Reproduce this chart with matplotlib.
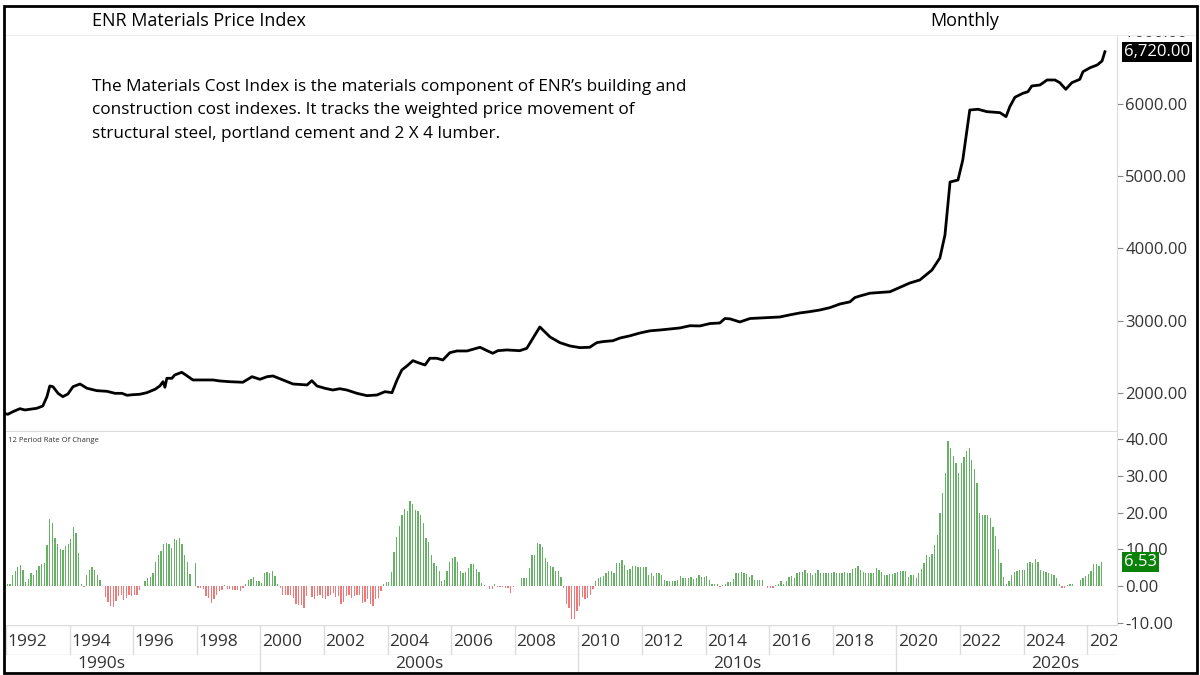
from matplotlib import pyplot as plt
from matplotlib.patches import Rectangle
import numpy as np
import pandas as pd

plt.rcParams["font.family"] = ["Open Sans", "DejaVu Sans"]

# --- data ---
# materials cost index (decimal year, index value)
line_years = [1992.00, 1992.06, 1992.22, 1992.44, 1992.60, 1992.82, 1992.97, 1993.16, 1993.29, 1993.38,
              1993.48, 1993.64, 1993.79, 1993.95, 1994.11, 1994.33, 1994.55, 1994.86, 1995.18, 1995.43,
              1995.65, 1995.81, 1995.99, 1996.21, 1996.43, 1996.69, 1996.84, 1996.94, 1997.00, 1997.06,
              1997.22, 1997.31, 1997.53, 1997.69, 1997.88, 1998.10, 1998.51, 1998.73, 1999.04, 1999.45,
              1999.74, 1999.99, 2000.21, 2000.40, 2000.71, 2001.03, 2001.47, 2001.62, 2001.78, 2002.03,
              2002.28, 2002.50, 2002.72, 2003.04, 2003.35, 2003.67, 2003.92, 2004.14, 2004.30, 2004.45,
              2004.61, 2004.80, 2004.96, 2005.18, 2005.33, 2005.55, 2005.74, 2005.96, 2006.18, 2006.50,
              2006.69, 2006.91, 2007.13, 2007.31, 2007.47, 2007.75, 2008.16, 2008.38, 2008.54, 2008.79,
              2008.95, 2009.11, 2009.42, 2009.74, 2010.05, 2010.36, 2010.58, 2010.77, 2011.09, 2011.31,
              2011.62, 2011.94, 2012.26, 2012.57, 2012.89, 2013.19, 2013.51, 2013.82, 2014.14, 2014.45,
              2014.61, 2014.77, 2015.08, 2015.40, 2015.71, 2016.03, 2016.34, 2016.65, 2016.97, 2017.28,
              2017.60, 2017.91, 2018.23, 2018.54, 2018.70, 2018.86, 2019.17, 2019.48, 2019.80, 2020.11,
              2020.42, 2020.74, 2021.12, 2021.37, 2021.53, 2021.69, 2021.94,
              2022.09, 2022.31, 2022.57, 2022.85, 2023.26, 2023.45, 2023.57, 2023.73, 2023.98, 2024.14,
              2024.26, 2024.52, 2024.74, 2024.99, 2025.14, 2025.33, 2025.52, 2025.77, 2025.87, 2026.10,
              2026.32, 2026.47, 2026.56]
line_values = [1712, 1705, 1741, 1783, 1765, 1779, 1788, 1820, 1949, 2097,
               2087, 1995, 1949, 1986, 2087, 2124, 2065, 2032, 2023, 1995,
               1995, 1968, 1976, 1982, 2004, 2051, 2097, 2156, 2079, 2203,
               2203, 2249, 2286, 2239, 2180, 2180, 2180, 2166, 2156, 2148,
               2225, 2189, 2225, 2235, 2180, 2124, 2111, 2170, 2097, 2065,
               2041, 2059, 2041, 1995, 1963, 1972, 2018, 2004, 2180, 2318,
               2373, 2447, 2419, 2387, 2480, 2480, 2456, 2557, 2581, 2581,
               2604, 2632, 2585, 2549, 2585, 2595, 2585, 2618, 2733, 2913,
               2844, 2775, 2696, 2650, 2627, 2632, 2696, 2710, 2723, 2760,
               2790, 2830, 2860, 2871, 2885, 2899, 2930, 2927, 2960, 2968,
               3030, 3025, 2982, 3030, 3037, 3045, 3051, 3080, 3107, 3125,
               3148, 3180, 3231, 3260, 3320, 3342, 3380, 3390, 3400, 3460,
               3520, 3563, 3700, 3867, 4185, 4918, 4946,
               5222, 5914, 5924, 5891, 5877, 5822, 5960, 6090, 6145, 6167,
               6246, 6260, 6329, 6329, 6292, 6200, 6292, 6338, 6444, 6500,
               6537, 6592, 6720]

# 12 period rate of change (%), monthly from Jan 1992
roc_values = [
    0.6, 0.5, 2.9, 4.1, 5.3, 5.8, 4.3, 1.1, 2.0, 3.5, 3.1, 4.4, 5.6, 6.1, 6.4, 11.2, 18.4, 17.1, 13.2, 11.5,
    10.2, 9.8, 10.9, 11.5, 12.9, 16.0, 14.4, 9.1, 0.7, -0.2, 2.9, 4.4, 5.3, 4.5, 3.1, 1.8, 0.0, -3.0, -4.4, -5.5,
    -5.6, -4.1, -2.7, -2.5, -3.8, -3.2, -2.5, -2.7, -2.3, -2.5, -1.1, 0.0, 1.3, 2.3, 2.4, 3.6, 6.5, 8.6, 9.7, 11.5,
    11.8, 11.5, 10.5, 12.9, 12.5, 13.2, 11.5, 8.6, 6.5,
    3.2, 0.0, 6.4, -0.5, -0.5, -0.7, -2.7, -3.2, -4.7, -3.6, -2.5, -1.4, -1.1, 0.4, -0.9, -0.7, -1.1, -1.1, -1.1, -1.2,
    -0.5, 0.6, 1.6, 2.0, 2.5, 1.4, 1.3, 0.9, 3.6, 3.8, 3.5, 4.1, 2.7, 0.7, -0.5, -2.5, -2.5, -2.5, -2.5, -3.2,
    -5.0, -5.2, -5.2, -5.9, -2.7, 0.0, -3.0, -3.5, -2.7, -2.5, -3.3, -3.5, -2.7, -2.5, -1.8, -2.9, -2.7, -5.0, -4.4, -2.7,
    -2.5, -3.2, -2.7, -2.5, -2.5, -4.7, -4.4, -3.5,
    -5.0, -5.5, -3.6, -3.2, -1.4, 0.7, 1.1, 1.1, 3.8, 9.3, 13.4, 16.5, 19.5, 20.9, 20.5, 23.2, 22.5, 20.7, 20.5, 19.3,
    17.1, 13.2, 12.0, 8.6, 6.4, 5.5, 4.1, 1.3, 1.8, 4.1, 6.5, 7.7, 7.9, 6.5, 4.1, 3.6, 3.8, 5.0, 5.9, 6.1,
    4.7, 3.8, 0.9, 0.2, 0.0, -0.7, -0.7, 0.5, -0.2, -0.2, -0.2, -0.4, -0.5, -2.0, -0.2, 0.0, 0.0, 2.3, 2.3, 2.2,
    5.0, 8.4, 8.6, 11.8, 11.5, 10.7, 7.7, 6.5, 5.6, 5.3, 4.1,
    4.1, 2.5, -0.5, -4.8, -5.9, -9.1, -8.9, -6.8, -5.3, -2.9, -3.5, -3.2, -2.3, -0.9, 1.4, 2.3, 2.4, 2.7, 3.5, 4.2,
    4.2, 3.6, 6.2, 6.2, 7.0, 5.7, 4.4, 4.7, 5.6, 5.6, 5.3, 5.2, 5.2, 5.3, 2.9, 3.5, 2.7, 3.5, 3.5, 2.9,
    1.8, 1.4, 1.4, 1.3, 1.3, 1.6, 2.7, 2.3, 2.2, 2.2, 2.4, 2.0, 2.2, 3.0, 2.5, 2.5, 2.7, 1.6, 0.7, 0.7,
    0.5, -0.2, 0.2, 0.7, 1.1, 1.1, 2.0, 3.6, 3.5, 3.8,
    3.5, 3.3, 2.5, 3.0, 1.8, 1.6, 1.6, 1.6, 0.0, -0.5, -0.5, -0.5, 0.4, 0.6, 1.5, 0.7, 1.4, 2.5, 2.7, 2.3,
    3.6, 3.8, 3.8, 4.5, 3.6, 3.6, 2.9, 3.6, 4.5, 3.6, 3.5, 3.5, 3.5, 3.6, 3.8, 3.5, 3.5, 3.5, 3.8, 3.6,
    3.5, 4.7, 5.0, 5.5, 4.4, 3.8, 3.6, 3.5, 3.5, 3.5, 5.0, 4.4, 3.8, 2.9, 2.9, 3.3, 3.3, 3.5, 3.8, 4.1,
    4.1, 4.1, 2.5, 2.9, 2.9, 2.1, 3.5, 4.7, 6.4, 8.4,
    7.9, 8.8, 11.2, 13.8, 20.0, 25.5, 30.9, 39.5, 37.7, 35.5, 33.5, 30.9, 33.6, 35.3, 36.8, 37.7, 34.5, 32.0, 28.2, 20.0,
    19.3, 19.3, 19.3, 18.6, 16.1, 13.6, 10.0, 6.2, 2.5, 0.7, 1.4, 3.0, 3.9, 4.1, 4.3, 4.5, 4.5, 6.2, 6.5, 6.4,
    7.5, 6.5, 4.5, 4.1, 3.8, 3.5, 3.2, 3.0, 2.3, 0.7, -0.4, -0.4, 0.2, 0.7, 0.5, 0.0, 0.0, 1.6, 2.3, 2.7,
    3.2, 4.1, 5.9, 6.1, 5.5, 6.53,
]

price_ticks = [2000, 3000, 4000, 5000, 6000, 7000]
roc_ticks = [-10, 0, 10, 20, 30, 40]
year_labels = list(range(1992, 2027, 2))
decades = [1990, 2000, 2010, 2020]

TITLE = "ENR Materials Price Index"
NOTE = ("The Materials Cost Index is the materials component of ENR\u2019s building and\n"
        "construction cost indexes. It tracks the weighted price movement of\n"
        "structural steel, portland cement and 2 X 4 lumber.")

# month positions as decimal years
months = pd.date_range("1992-01-01", periods=len(roc_values), freq="MS")
roc_x = months.year + (months.month - 0.5) / 12
roc = np.array(roc_values)

W, H = 1200, 675
fig = plt.figure(figsize=(W / 100, H / 100), dpi=100)


def box(x0, y0, x1, y1):
    # pixel box (top-left origin) -> figure fraction rect
    return [x0 / W, 1 - y1 / H, (x1 - x0) / W, (y1 - y0) / H]


XLIM = (1991.94, 2026.94)
GRID = "#dcdcdc"
TXT = "#333333"

# --- price panel ---
ax = fig.add_axes(box(4, 28, 1117, 431))
ax.plot(line_years, line_values, color="black", lw=2, solid_joinstyle="round")
ax.set_xlim(*XLIM)
ax.set_ylim(1474, 7048)
ax.yaxis.tick_right()
ax.set_yticks(price_ticks)
ax.set_yticklabels([f"{v:.2f}" for v in price_ticks])
ax.tick_params(axis="y", length=4, color="#888888", labelcolor=TXT, labelsize=12, pad=2)
ax.set_xticks([])
for s in ["top", "left"]:
    ax.spines[s].set_visible(False)
ax.spines["right"].set_color(GRID)
ax.spines["bottom"].set_color(GRID)
ax.annotate(f"{line_values[-1]:,.2f}", xy=(1, line_values[-1]), xycoords=("axes fraction", "data"),
            xytext=(5, 0), textcoords="offset points", ha="left", va="center", fontsize=12,
            color="white", bbox=dict(boxstyle="square,pad=0.12", fc="black", ec="none"),
            annotation_clip=False, zorder=10)

# --- rate of change panel ---
ax2 = fig.add_axes(box(4, 432, 1117, 625))
colors = np.where(roc >= 0, "#66b166", "#ef7878")
ax2.bar(roc_x, roc, width=0.5 / 12, color=colors, lw=0)
ax2.set_xlim(*XLIM)
ax2.set_ylim(-10.6, 42.0)
ax2.yaxis.tick_right()
ax2.set_yticks(roc_ticks)
ax2.set_yticklabels([f"{v:.2f}" for v in roc_ticks])
ax2.tick_params(axis="y", length=4, color="#888888", labelcolor=TXT, labelsize=12, pad=2)
ax2.set_xticks([])
for s in ["top", "left", "bottom"]:
    ax2.spines[s].set_visible(False)
ax2.spines["right"].set_color(GRID)
ax2.text(0.004, 0.975, "12 Period Rate Of Change", transform=ax2.transAxes, fontsize=5.5,
         color=TXT, va="top", ha="left")
ax2.annotate(f"{roc_values[-1]:.2f}", xy=(1, roc_values[-1]), xycoords=("axes fraction", "data"),
             xytext=(5, 0), textcoords="offset points", ha="left", va="center", fontsize=12,
             color="white", bbox=dict(boxstyle="square,pad=0.12", fc="#0a820a", ec="none"),
             annotation_clip=False, zorder=10)

# --- year row ---
ax3 = fig.add_axes(box(4, 625, 1117, 655))
ax3.set_xlim(*XLIM)
ax3.set_ylim(0, 1)
ax3.axis("off")
ax3.axhline(1, color=GRID, lw=1)
ax3.axhline(0, color=GRID, lw=1)
for yr in year_labels:
    ax3.axvline(yr, color=GRID, lw=1)
    ax3.text(yr + 0.05, 0.45, str(yr), fontsize=12.5, color=TXT, ha="left", va="center", clip_on=True)

# --- decade row ---
ax4 = fig.add_axes(box(4, 655, 1117, 673))
ax4.set_xlim(*XLIM)
ax4.set_ylim(0, 1)
ax4.axis("off")
for d in decades:
    ax4.axvline(d, color=GRID, lw=1)
    ax4.text(d + 5, 0.5, f"{d}s", fontsize=12.5, color=TXT, ha="center", va="center", clip_on=True)

# --- header bar (covers the clipped top tick label) ---
axt = fig.add_axes(box(4, 6, 1197, 35), zorder=5)
axt.set_facecolor("white")
axt.set_xticks([])
axt.set_yticks([])
for s in ["top", "left", "right"]:
    axt.spines[s].set_visible(False)
axt.spines["bottom"].set_color("#eeeeee")
fig.text(92 / W, 1 - 21 / H, TITLE, fontsize=13, color="black", va="center", ha="left", zorder=6)
fig.text(930 / W, 1 - 21 / H, "Monthly", fontsize=13, color="black", va="center", ha="left", zorder=6)

fig.text(92 / W, 1 - 79 / H, NOTE, fontsize=12.3, color="black", va="top", ha="left", linespacing=1.62)

fig.add_artist(Rectangle((4 / W, 2 / H), 1193 / W, 667 / H, transform=fig.transFigure,
                         fill=False, ec="black", lw=2, zorder=20))

plt.savefig("out.png", dpi=100)
